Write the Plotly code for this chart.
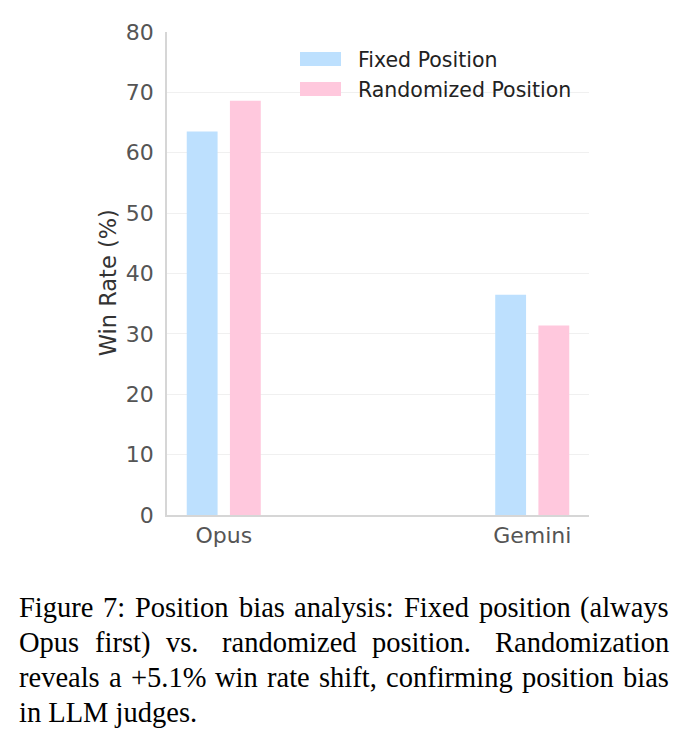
import plotly.graph_objects as go

models = ["Opus", "Gemini"]
fixed_position = [63.5, 36.5]
randomized_position = [68.6, 31.4]
series_names = ["Fixed Position", "Randomized Position"]
series_colors = ["#bde0fe", "#ffc8dd"]
y_ticks = [0, 10, 20, 30, 40, 50, 60, 70, 80]
y_title = "Win Rate (%)"
caption_lines = [
    "Figure 7: Position bias analysis: Fixed position (always",
    "Opus first) vs.  randomized position.  Randomization",
    "reveals a +5.1% win rate shift, confirming position bias",
    "in LLM judges.",
]

W, H = 686, 748
L, R, T, B = 167, 97, 32, 232.5
plot_w = W - L - R
plot_h = H - T - B

def px_x(p):
    return (p - L) / plot_w

def px_y(p):
    return (H - B - p) / plot_h

fig = go.Figure()
for name, vals, col in zip(series_names, [fixed_position, randomized_position], series_colors):
    fig.add_trace(go.Bar(x=models, y=vals, name=name, showlegend=False,
                         marker=dict(color=col, line=dict(width=0))))

fig.update_layout(
    width=W, height=H,
    margin=dict(l=L, r=R, t=T, b=B, pad=0),
    paper_bgcolor="white", plot_bgcolor="white",
    barmode="group", bargap=0.72, bargroupgap=0.2857,
    font=dict(family="DejaVu Sans", size=22, color="#555555"),
    showlegend=False,
    xaxis=dict(type="category", range=[-0.184, 1.184], showgrid=False,
               showline=True, linecolor="#d6d6d6", linewidth=1.5,
               ticks="", tickfont=dict(size=22, color="#555555")),
    yaxis=dict(range=[0, 80], tickvals=y_ticks, showgrid=True,
               gridcolor="#f0f0f0", gridwidth=1,
               showline=True, linecolor="#d6d6d6", linewidth=1.5,
               zeroline=False, ticks="", ticklabelstandoff=7,
               tickfont=dict(size=22, color="#555555")),
)

# y-axis title
fig.add_annotation(text=y_title, xref="paper", yref="paper",
                   x=px_x(107.5), y=px_y(283), xanchor="center", yanchor="middle",
                   textangle=-90, showarrow=False, borderpad=0,
                   font=dict(family="DejaVu Sans", size=22.5, color="#333333"))

# legend (patches + labels)
leg_rows = [59, 89]
for name, col, yc in zip(series_names, series_colors, leg_rows):
    fig.add_shape(type="rect", xref="paper", yref="paper",
                  x0=px_x(300), x1=px_x(341), y0=px_y(yc - 7), y1=px_y(yc + 7),
                  fillcolor=col, line=dict(width=0), layer="above")
    fig.add_annotation(text=name, xref="paper", yref="paper",
                       x=px_x(357), y=px_y(yc + 1), xanchor="left", yanchor="middle",
                       showarrow=False, borderpad=0,
                       font=dict(family="DejaVu Sans", size=20.5, color="#222222"))

# caption with justified lines (Times-compatible advance widths, per 1000 em)
TW = {' ': 250, '(': 333, ')': 333, '+': 564, ',': 250, '.': 250, ':': 278, '%': 833,
      'F': 556, 'L': 611, 'M': 889, 'O': 722, 'P': 556, 'R': 667,
      'a': 444, 'b': 500, 'c': 444, 'd': 500, 'e': 444, 'f': 333, 'g': 500, 'h': 500,
      'i': 278, 'j': 278, 'k': 500, 'l': 278, 'm': 778, 'n': 500, 'o': 500, 'p': 500,
      'q': 500, 'r': 333, 's': 389, 't': 278, 'u': 500, 'v': 500, 'w': 722, 'x': 500,
      'y': 500, 'z': 444}
for d in "0123456789":
    TW[d] = 500

def tw(s, fs):
    return sum(TW.get(c, 500) for c in s) * fs / 1000.0

FS = 28.5
LEFT, RIGHT = 18, 668
baselines = [616.7, 651.7, 686.7, 721.7]
for i, line in enumerate(caption_lines):
    ymid = baselines[i] - 8.5
    justify = i < len(caption_lines) - 1
    if not justify:
        fig.add_annotation(text=line, xref="paper", yref="paper",
                           x=px_x(LEFT), y=px_y(ymid), xanchor="left", yanchor="middle",
                           showarrow=False, borderpad=0,
                           font=dict(family="Liberation Serif", size=FS, color="black"))
        continue
    parts = line.split(" ")
    words, gaps = [], []
    pending = 1.0
    for p in parts:
        if p == "":
            pending = 1.5
            continue
        if words:
            gaps.append(pending)
        words.append(p)
        pending = 1.0
    sp = tw(" ", FS)
    natural = sum(tw(w, FS) for w in words) + sum(g * sp for g in gaps)
    extra = (RIGHT - LEFT) - natural
    wsum = sum(gaps)
    x = LEFT
    for k, w in enumerate(words):
        fig.add_annotation(text=w, xref="paper", yref="paper",
                           x=px_x(x), y=px_y(ymid), xanchor="left", yanchor="middle",
                           showarrow=False, borderpad=0,
                           font=dict(family="Liberation Serif", size=FS, color="black"))
        if k < len(gaps):
            x += tw(w, FS) + gaps[k] * sp + extra * gaps[k] / wsum

fig.write_html("out.html")
